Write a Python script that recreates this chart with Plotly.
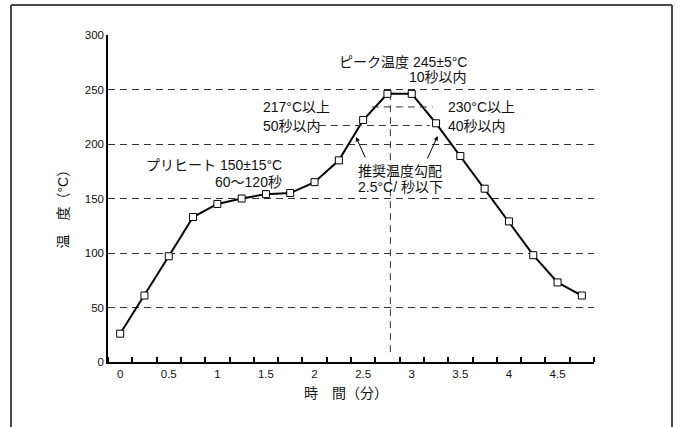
import plotly.graph_objects as go

# ---- data ----
time_min = [0, 0.25, 0.5, 0.75, 1.0, 1.25, 1.5, 1.75, 2.0, 2.25,
            2.5, 2.75, 3.0, 3.25, 3.5, 3.75, 4.0, 4.25, 4.5, 4.75]
temp_c = [26, 61, 97, 133, 145, 150, 154, 155, 165, 185,
          222, 246, 246, 219, 189, 159, 129, 98, 73, 61]
x_ticks = [0, 0.5, 1, 1.5, 2, 2.5, 3, 3.5, 4, 4.5]
x_tick_labels = ["0", "0.5", "1", "1.5", "2", "2.5", "3", "3.5", "4", "4.5"]
y_ticks = [0, 50, 100, 150, 200, 250, 300]
y_tick_labels = ["0", "50", "100", "150", "200", "250", "300"]

FONT = "Liberation Sans, Arial, Noto Sans CJK JP"
fig = go.Figure()

fig.add_trace(go.Scatter(
    x=time_min, y=temp_c, mode="lines+markers",
    line=dict(color="black", width=2),
    marker=dict(symbol="square", size=7, color="white",
                line=dict(color="black", width=1)),
    showlegend=False, hoverinfo="skip"))

dash = "7px,5px"
fig.add_shape(type="line", x0=2.78, x1=2.78, y0=9, y1=242,
              line=dict(color="#333", width=1, dash=dash))
fig.add_shape(type="line", x0=2.59, x1=3.215, y0=234, y1=234,
              line=dict(color="#333", width=1, dash=dash))
fig.add_shape(type="line", x0=2.045, x1=3.185, y0=217, y1=217,
              line=dict(color="#333", width=1, dash=dash))

# outer frame
frame = dict(color="#4a4a4a", width=2)
fx0, fx1, fy0, fy1 = -0.1996, 1.1605, -0.25, 1.0917
fig.add_shape(type="line", xref="paper", yref="paper", x0=fx0, x1=fx1, y0=fy1, y1=fy1, line=frame)
fig.add_shape(type="line", xref="paper", yref="paper", x0=fx0, x1=fx0, y0=fy0, y1=fy1, line=frame)
fig.add_shape(type="line", xref="paper", yref="paper", x0=fx1, x1=fx1, y0=fy0, y1=fy1, line=frame)

def txt(s, x, y, anchor):
    fig.add_annotation(x=x, y=y, text=s, showarrow=False,
                       xanchor=anchor, yanchor="middle",
                       font=dict(family=FONT, size=14, color="#111"))

txt("ピーク温度 245±5°C", 3.59, 275.5, "right")
txt("10秒以内", 3.59, 261.2, "right")
txt("217°C以上", 1.451, 233.9, "left")
txt("50秒以内", 1.451, 216.5, "left")
txt("230°C以上", 3.349, 233.9, "left")
txt("40秒以内", 3.349, 216.5, "left")
txt("プリヒート 150±15°C", 1.687, 180.7, "right")
txt("60〜120秒", 1.687, 164.9, "right")
txt("推奨温度勾配", 2.426, 175.5, "left")
txt("2.5°C/ 秒以下", 2.426, 160.8, "left")

for tx, ty, ax, ay in [(2.426, 206.4, 10, 22), (3.267, 207.3, -11, 24)]:
    fig.add_annotation(x=tx, y=ty, ax=ax, ay=ay, text="", showarrow=True,
                       arrowhead=2, arrowsize=0.9, arrowwidth=1,
                       arrowcolor="black", standoff=0)

fig.add_annotation(xref="paper", yref="paper", x=0.49, y=-0.0957,
                   text="時\u3000間（分）", showarrow=False,
                   xanchor="center", yanchor="middle",
                   font=dict(family=FONT, size=14, color="#111"))
fig.add_annotation(xref="paper", yref="paper", x=-0.0916, y=0.48,
                   text="温\u3000度（°C）", showarrow=False, textangle=-90,
                   xanchor="center", yanchor="middle",
                   font=dict(family=FONT, size=14, color="#111"))

fig.update_xaxes(range=[-0.125, 4.875], tickvals=x_ticks, ticktext=x_tick_labels,
                 ticks="", showgrid=False, zeroline=False,
                 showline=True, linecolor="black", linewidth=1.5,
                 minor=dict(tick0=-0.125, dtick=0.25, ticks="inside",
                            ticklen=5, tickcolor="black", tickwidth=1.5,
                            showgrid=False),
                 tickfont=dict(family=FONT, size=11.5, color="#111"))
fig.update_yaxes(range=[0, 300], tickvals=y_ticks, ticktext=y_tick_labels,
                 ticks="", showgrid=True, gridcolor="#333", gridwidth=1,
                 griddash=dash, zeroline=False,
                 showline=True, linecolor="black", linewidth=1.5,
                 tickfont=dict(family=FONT, size=11.5, color="#111"))

fig.update_layout(width=680, height=427, plot_bgcolor="white", paper_bgcolor="white",
                  margin=dict(l=108, r=86, t=35, b=65), showlegend=False)

fig.write_html("out.html", config={"displayModeBar": False},
               post_script="document.body.style.margin='0';document.body.style.overflow='hidden';")
